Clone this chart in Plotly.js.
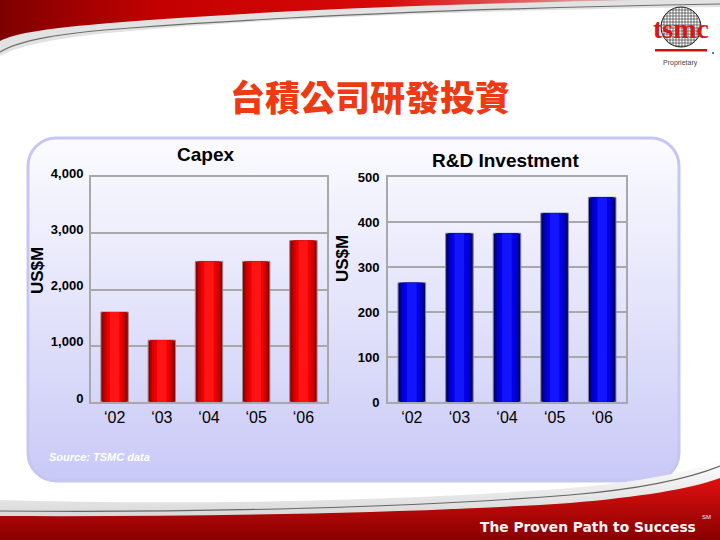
<!DOCTYPE html>
<html>
<head>
<meta charset="utf-8">
<script src="https://cdn.plot.ly/plotly-3.0.1.min.js"></script>
<style>html,body{margin:0;padding:0;background:#fff;}#chart{width:720px;height:540px;}</style>
</head>
<body>
<div id="chart"></div>
<script>
// ---- data ----
const categories = ['\u201802', '\u201803', '\u201804', '\u201805', '\u201806'];
const capexValues = [1600, 1100, 2500, 2500, 2870];
const rdValues = [265, 375, 375, 420, 455];
const capexTicks = [0, 1000, 2000, 3000, 4000];
const rdTicks = [0, 100, 200, 300, 400, 500];

const mainTitle = '台積公司研發投資';
const capexTitle = 'Capex';
const rdTitle = 'R&D Investment';
const yTitle = 'US$M';
const sourceText = 'Source: TSMC data';
const slogan = 'The Proven Path to Success';

// ---- styling helpers (shading layers for cylinder-like bars) ----
const redShades = [
  {w: 0.58, c: '#8a0000'}, {w: 0.50, c: '#b00000'}, {w: 0.42, c: '#d40000'},
  {w: 0.32, c: '#ee0000'}, {w: 0.20, c: '#ff1414'}
];
const blueShades = [
  {w: 0.58, c: '#00006a'}, {w: 0.50, c: '#00009a'}, {w: 0.42, c: '#0000c8'},
  {w: 0.32, c: '#0000e8'}, {w: 0.20, c: '#1414ff'}
];

const traces = [];
redShades.forEach((s, i) => traces.push({
  type: 'bar', x: categories, y: capexValues, xaxis: 'x', yaxis: 'y',
  width: s.w, marker: {color: s.c, line: {width: i === 0 ? 1 : 0, color: '#9a8a8a'}},
  hoverinfo: 'skip'
}));
blueShades.forEach((s, i) => traces.push({
  type: 'bar', x: categories, y: rdValues, xaxis: 'x2', yaxis: 'y2',
  width: s.w, marker: {color: s.c, line: {width: i === 0 ? 1 : 0, color: '#8a8a9a'}},
  hoverinfo: 'skip'
}));

// ---- decorative background (banners, panel, logo) ----
let grid = '';
for (let k = 0; k <= 14; k++) {
  const p = 661 + k * 3;
  grid += `<line x1='${p}' y1='5' x2='${p}' y2='49'/>`;
  const q = 7 + k * 3;
  grid += `<line x1='659' y1='${q}' x2='703' y2='${q}'/>`;
}
const deco = `<svg xmlns='http://www.w3.org/2000/svg' width='720' height='540' viewBox='0 0 720 540'>
<defs>
<linearGradient id='topRed' x1='0' y1='0' x2='1' y2='0'>
<stop offset='0' stop-color='#7e0000'/><stop offset='0.25' stop-color='#c40000'/><stop offset='0.6' stop-color='#d80808'/><stop offset='0.82' stop-color='#e06060'/><stop offset='1' stop-color='#d6d6d6'/>
</linearGradient>
<linearGradient id='panel' x1='0' y1='0' x2='0' y2='1'>
<stop offset='0' stop-color='#fbfbff'/><stop offset='0.5' stop-color='#e3e3fb'/><stop offset='1' stop-color='#c9c9f7'/>
</linearGradient>
<linearGradient id='botRed' x1='0' y1='0' x2='0' y2='1'>
<stop offset='0' stop-color='#e01010'/><stop offset='1' stop-color='#880000'/>
</linearGradient>
<linearGradient id='botShade' x1='0' y1='0' x2='0' y2='1'>
<stop offset='0' stop-color='#ffffff'/><stop offset='1' stop-color='#c8c8c8'/>
</linearGradient>
<clipPath id='waf'><circle cx='681' cy='27' r='20'/></clipPath>
</defs>
<path d='M0,0 H720 V7 C560,9 300,15 130,31 C60,37 20,45 0,56 Z' fill='#e2e2e2'/>
<path d='M0,0 H640 C480,3 280,9 110,23 C50,28 15,33 0,41 Z' fill='url(#topRed)'/>
<path d='M0,52 C20,40 60,33 130,28 C280,17 480,8 720,4' fill='none' stroke='#6e6e6e' stroke-width='1.2'/>
<rect x='28' y='138' width='651' height='343' rx='28' ry='28' fill='url(#panel)' stroke='#c6c6f2' stroke-width='3'/>
<path d='M0,540 V500 C200,506 420,500 570,488 C640,482 690,472 720,460 V540 Z' fill='url(#botShade)'/>
<path d='M0,511 C200,513 420,507 570,495 C640,489 690,478 720,466' fill='none' stroke='#666' stroke-width='1.2'/>
<path d='M0,540 V516 C200,517 420,513 570,503 C640,497 690,489 720,478 V540 Z' fill='url(#botRed)'/>
<circle cx='681' cy='27' r='20' fill='#ffffff' stroke='#222' stroke-width='1'/>
<g clip-path='url(#waf)' stroke='#222' stroke-width='0.6'>${grid}</g>
<rect x='655' y='49' width='52' height='2.5' fill='#cc1010'/>
<circle cx='713' cy='53' r='1' fill='#444'/>
</svg>`;
const decoUri = 'data:image/svg+xml;charset=utf-8,' + encodeURIComponent(deco);

const px = v => v / 720;
const py = v => 1 - v / 540;

const baseFont = 'Liberation Sans, Arial, sans-serif';
const axisCommon = {
  showline: true, mirror: true, linecolor: '#a8a8a8', linewidth: 2,
  showgrid: true, gridcolor: '#a8a8a8', gridwidth: 2, zeroline: false,
  ticks: '', fixedrange: true
};

function note(text, x, y, font, extra) {
  return Object.assign({
    text: text, x: px(x), y: py(y), xref: 'paper', yref: 'paper',
    xanchor: 'center', yanchor: 'middle', showarrow: false, font: font
  }, extra || {});
}

const layout = {
  width: 720, height: 540, autosize: false,
  margin: {l: 0, r: 0, t: 0, b: 0, pad: 0},
  paper_bgcolor: '#ffffff', plot_bgcolor: '#ffffff',
  showlegend: false, barmode: 'overlay',
  font: {family: baseFont, color: '#000'},
  xaxis: Object.assign({}, axisCommon, {
    domain: [px(91), px(327)], anchor: 'y', type: 'category', showgrid: false,
    tickfont: {size: 16, color: '#000', family: baseFont}, ticklabelstandoff: 0
  }),
  yaxis: Object.assign({}, axisCommon, {
    domain: [1 - 402 / 540, 1 - 177 / 540], anchor: 'x', range: [0, 4000],
    tickvals: capexTicks, tickformat: ',d',
    tickfont: {size: 13, color: '#000', family: baseFont, weight: 'bold'},
    ticklabelshift: -4, ticklabelstandoff: 3
  }),
  xaxis2: Object.assign({}, axisCommon, {
    domain: [px(388), px(626)], anchor: 'y2', type: 'category', showgrid: false,
    tickfont: {size: 16, color: '#000', family: baseFont}, ticklabelstandoff: 0
  }),
  yaxis2: Object.assign({}, axisCommon, {
    domain: [1 - 402 / 540, 1 - 177 / 540], anchor: 'x2', range: [0, 500],
    tickvals: rdTicks,
    tickfont: {size: 13, color: '#000', family: baseFont, weight: 'bold'},
    ticklabelstandoff: 4
  }),
  images: [{
    source: decoUri, xref: 'paper', yref: 'paper', x: 0, y: 1, sizex: 1, sizey: 1,
    xanchor: 'left', yanchor: 'top', sizing: 'stretch', layer: 'below'
  }],
  annotations: [
    note(mainTitle, 370, 95,
         {size: 35, color: '#ee3a14', weight: 900, family: 'Noto Sans CJK TC, Noto Sans CJK SC, sans-serif'}),
    note('<b>' + capexTitle + '</b>', 205, 155, {size: 19, color: '#000', family: baseFont}),
    note('<b>' + rdTitle + '</b>', 506, 160, {size: 19, color: '#000', family: baseFont}),
    note('<b>' + yTitle + '</b>', 37, 271, {size: 17, color: '#000', family: baseFont}, {textangle: -90}),
    note('<b>' + yTitle + '</b>', 342, 259, {size: 17, color: '#000', family: baseFont}, {textangle: -90}),
    note('<b><i>' + sourceText + '</i></b>', 47, 457, {size: 11, color: '#ffffff', family: baseFont}, {xanchor: 'left'}),
    note('<b>' + slogan + '</b>', 478, 527, {size: 13.8, color: '#f4f4f4', family: 'DejaVu Sans, sans-serif'}, {xanchor: 'left'}),
    note('SM', 706, 517, {size: 6, color: '#f0f0f0', family: baseFont}),
    note('<b>tsmc</b>', 681, 29, {size: 28, color: '#d81818', family: 'Liberation Serif, serif'}),
    note('Proprietary', 680, 63, {size: 7, color: '#444', family: baseFont})
  ]
};

Plotly.newPlot('chart', traces, layout, {staticPlot: true, displayModeBar: false});
</script>
</body>
</html>
